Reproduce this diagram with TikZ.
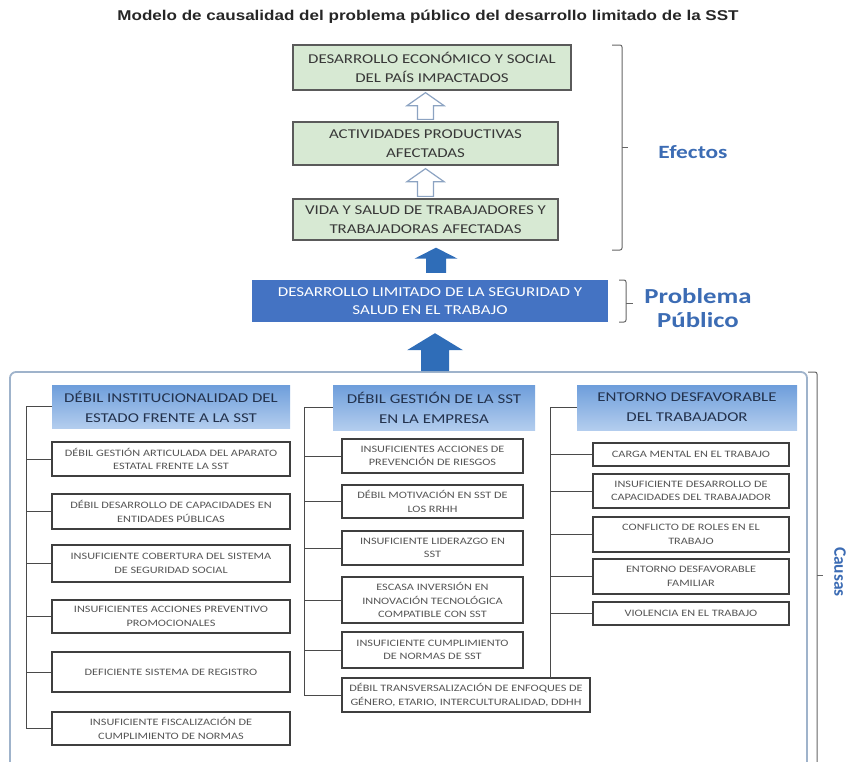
\documentclass[tikz,border=0pt]{standalone}
\usepackage{fontspec}
\setmainfont{Carlito}
\newfontfamily\widefont[FakeStretch=1.25]{Carlito}
\newfontfamily\titlefont[FakeStretch=1.2]{Liberation Sans}
\usetikzlibrary{calc}

\definecolor{effill}{HTML}{D7E9D3}
\definecolor{efdraw}{HTML}{5A5A5A}
\definecolor{probfill}{HTML}{4473C3}
\definecolor{arrblue}{HTML}{2F6DB8}
\definecolor{hollowc}{HTML}{8CA3C2}
\definecolor{hdtop}{HTML}{6E9EDB}
\definecolor{hdbot}{HTML}{B3CDEE}
\definecolor{hdtext}{HTML}{23324D}
\definecolor{boxline}{HTML}{3F3F3F}
\definecolor{boxtext}{HTML}{555555}
\definecolor{labblue}{HTML}{3C6CB4}
\definecolor{framec}{HTML}{9FB3CB}
\definecolor{wirec}{HTML}{4A4A4A}

% box given by its corners: style, name, x1, y1, x2, y2, text
\newcommand\cbox[7]{%
  \node[#1, minimum width={#5pt-#3pt}, minimum height={#6pt-#4pt}]
    (#2) at ({(#3+#5)/2},{(#4+#6)/2}) {#7};}

% upward block arrow: style, base, tip, shaft half width, head half width, head length
\newcommand\blockup[6]{%
  \path[#1] let \p1=(#2), \p2=(#3) in
    ({\x1-#4pt},\y1) -- ({\x1+#4pt},\y1) -- ({\x1+#4pt},{\y2-#6pt})
    -- ({\x1+#5pt},{\y2-#6pt}) -- (\x1,\y2) -- ({\x1-#5pt},{\y2-#6pt})
    -- ({\x1-#4pt},{\y2-#6pt}) -- cycle;}

\begin{document}
\begin{tikzpicture}[x=1pt,y=-1pt,
  effect/.style={draw=efdraw, line width=1.3pt, fill=effill, align=center,
    inner sep=1pt, text=black!78, font=\widefont\fontsize{13.5}{19}\selectfont},
  problem/.style={fill=probfill, align=center, inner sep=1pt, text=white,
    font=\widefont\fontsize{13.6}{18}\selectfont},
  header/.style={top color=hdtop, bottom color=hdbot, align=center, inner sep=1pt,
    text=hdtext, font=\widefont\fontsize{13.5}{20}\selectfont},
  cause/.style={draw=boxline, line width=1.1pt, fill=white, align=center,
    inner sep=1pt, text=boxtext, font=\widefont\fontsize{9.8}{13.5}\selectfont},
  wire/.style={draw=wirec, line width=0.9pt},
  bracket/.style={draw=black!60, line width=1pt, rounded corners=2pt},
  tag/.style={text=labblue, align=center},
  hollow/.style={draw=hollowc, line width=1.2pt, fill=white},
  solid/.style={fill=arrblue},
]
\useasboundingbox (0,0) rectangle (853,761);
\clip (0,0) rectangle (853,761);

% title
\node[font=\titlefont\bfseries\fontsize{14.2}{16}\selectfont, text=black!85] (title)
  at (428,17) {Modelo de causalidad del problema público del desarrollo limitado de la SST};

% effects
\cbox{effect}{g1}{293}{45}{571}{90}{DESARROLLO ECONÓMICO Y SOCIAL\\DEL PAÍS IMPACTADOS}
\cbox{effect}{g2}{293}{122}{558}{165}{ACTIVIDADES PRODUCTIVAS\\AFECTADAS}
\cbox{effect}{g3}{293}{199}{558}{240}{VIDA Y SALUD DE TRABAJADORES Y\\TRABAJADORAS AFECTADAS}

% public problem
\cbox{problem}{p}{252}{280}{608}{322}{DESARROLLO LIMITADO DE LA SEGURIDAD Y\\SALUD EN EL TRABAJO}

% causes frame
\node[draw=framec, line width=1.8pt, rounded corners=6pt, minimum width=797pt,
  minimum height=418pt] (frame) at (408.5,581) {};

% arrows between levels
\coordinate (hb1) at ([yshift=2pt]g2.north);
\coordinate (ht1) at ([yshift=-2pt]g1.south);
\coordinate (hb2) at ([yshift=2pt]g3.north);
\coordinate (ht2) at ([yshift=-3pt]g2.south);
\blockup{hollow}{hb1}{ht1}{8}{18.5}{13}
\blockup{hollow}{hb2}{ht2}{8}{18.5}{13}
\coordinate (bb1) at ([xshift=6pt,yshift=7pt]p.north);
\coordinate (bt1) at ([xshift=6pt,yshift=-7pt]g3.south);
\blockup{solid}{bb1}{bt1}{10}{21.5}{11}
\coordinate (bb2) at ([xshift=5pt]p.south |- frame.north);
\coordinate (bt2) at ([xshift=5pt,yshift=-11pt]p.south);
\blockup{solid}{bb2}{bt2}{14}{28}{17}

% column headers
\cbox{header}{h1}{52}{385}{290}{428}{DÉBIL INSTITUCIONALIDAD DEL\\ESTADO FRENTE A LA SST}
\cbox{header}{h2}{333}{385}{535}{430}{DÉBIL GESTIÓN DE LA SST\\EN LA EMPRESA}
\cbox{header}{h3}{577}{385}{797}{430}{ENTORNO DESFAVORABLE\\DEL TRABAJADOR}

% column 1
\cbox{cause}{a1}{52}{442}{290}{476}{DÉBIL GESTIÓN ARTICULADA DEL APARATO\\ESTATAL FRENTE LA SST}
\cbox{cause}{b1}{52}{494}{290}{529}{DÉBIL DESARROLLO DE CAPACIDADES EN\\ENTIDADES PÚBLICAS}
\cbox{cause}{c1}{52}{545}{290}{582}{INSUFICIENTE COBERTURA DEL SISTEMA\\DE SEGURIDAD SOCIAL}
\cbox{cause}{d1}{52}{600}{290}{633}{INSUFICIENTES ACCIONES PREVENTIVO\\PROMOCIONALES}
\cbox{cause}{e1}{52}{652}{290}{692}{DEFICIENTE SISTEMA DE REGISTRO}
\cbox{cause}{f1}{52}{712}{290}{745}{INSUFICIENTE FISCALIZACIÓN DE\\CUMPLIMIENTO DE NORMAS}

% column 2
\cbox{cause}{a2}{342}{439}{523}{473}{INSUFICIENTES ACCIONES DE\\PREVENCIÓN DE RIESGOS}
\cbox{cause}{b2}{342}{485}{523}{518}{DÉBIL MOTIVACIÓN EN SST DE\\LOS RRHH}
\cbox{cause}{c2}{342}{531}{523}{565}{INSUFICIENTE LIDERAZGO EN\\SST}
\cbox{cause}{d2}{342}{577}{523}{623}{ESCASA INVERSIÓN EN\\INNOVACIÓN TECNOLÓGICA\\COMPATIBLE CON SST}
\cbox{cause}{e2}{342}{632}{523}{668}{INSUFICIENTE CUMPLIMIENTO\\DE NORMAS DE SST}
\cbox{cause}{f2}{342}{678}{590}{712}{DÉBIL TRANSVERSALIZACIÓN DE ENFOQUES DE\\GÉNERO, ETARIO, INTERCULTURALIDAD, DDHH}

% column 3
\cbox{cause}{a3}{593}{443}{789}{466}{CARGA MENTAL EN EL TRABAJO}
\cbox{cause}{b3}{593}{474}{789}{508}{INSUFICIENTE DESARROLLO DE\\CAPACIDADES DEL TRABAJADOR}
\cbox{cause}{c3}{593}{517}{789}{552}{CONFLICTO DE ROLES EN EL\\TRABAJO}
\cbox{cause}{d3}{593}{559}{789}{594}{ENTORNO DESFAVORABLE\\FAMILIAR}
\cbox{cause}{e3}{593}{602}{789}{625}{VIOLENCIA EN EL TRABAJO}

% spines of the three columns
\coordinate (s1) at (26,0);
\coordinate (s2) at (304,0);
\coordinate (s3) at (550,0);
\coordinate (s3end) at (550,678);

\draw[wire] (h1.west) -- (h1.west -| s1) -- (f1.west -| s1) -- (f1.west);
\foreach \n in {a1,b1,c1,d1,e1} \draw[wire] (\n.west -| s1) -- (\n.west);

\draw[wire] (h2.west) -- (h2.west -| s2) -- (f2.west -| s2) -- (f2.west);
\foreach \n in {a2,b2,c2,d2,e2} \draw[wire] (\n.west -| s2) -- (\n.west);

\draw[wire] (h3.west) -- (h3.west -| s3) -- (s3end);
\foreach \n in {a3,b3,c3,d3,e3} \draw[wire] (\n.west -| s3) -- (\n.west);

% brackets and their labels
\draw[bracket] (612,45) -- (622,45) -- (622,250) -- (612,250);
\draw[bracket] (622,147) -- (628,147);
\node[tag, font=\widefont\bfseries\fontsize{18.7}{22}\selectfont] (efectos) at (693,152) {Efectos};

\draw[bracket] (619,280) -- (626,280) -- (626,322) -- (619,322);
\draw[bracket] (626,303) -- (633,303);
\node[tag, font=\widefont\bfseries\fontsize{21.4}{24}\selectfont] (problema) at (698,308) {Problema\\Público};

\draw[bracket] (808,372) -- (817,372) -- (817,790);
\draw[bracket] (817,575) -- (823,575);
\node[tag, rotate=-90, font=\bfseries\fontsize{17.5}{19}\selectfont] (causas) at (840,572) {Causas};
\end{tikzpicture}
\end{document}
